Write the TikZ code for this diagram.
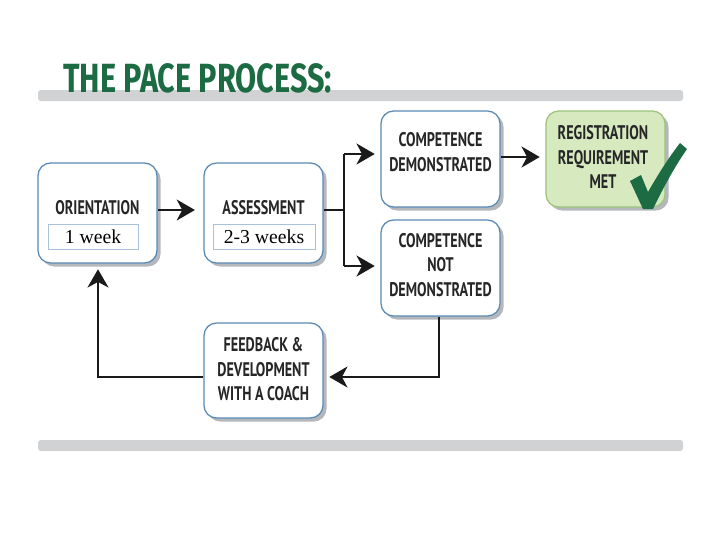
\documentclass[tikz,border=0pt]{standalone}
\usepackage{fontspec}
\usepackage{xcolor}
\usepackage{tikz}
\usetikzlibrary{arrows.meta,positioning,calc,shadows}
\newfontfamily\titlefont[FakeStretch=0.75]{Fira Sans Bold}
\newfontfamily\boxfont[FakeStretch=0.72]{PT Sans Bold}
\newfontfamily\weekfont{Liberation Serif}
\definecolor{pacegreen}{HTML}{1C6B42}
\definecolor{barg}{HTML}{D1D2D4}
\definecolor{boxline}{HTML}{5A8AB4}
\definecolor{boxshade}{HTML}{B4B8BD}
\definecolor{weekline}{HTML}{A9C1DD}
\definecolor{metfill}{HTML}{D7E9BF}
\definecolor{metline}{HTML}{9CC47C}
\definecolor{flow}{HTML}{1A1A1A}

\begin{document}
\begin{tikzpicture}[x=0.025cm,y=-0.025cm,>=Stealth,
  procbox/.style={draw=boxline,line width=0.9pt,fill=white,rounded corners=9pt,
    minimum width=2.975cm,minimum height=2.4cm,
    drop shadow={shadow xshift=2.5pt,shadow yshift=-2.5pt,fill=boxshade,opacity=1}},
  metbox/.style={procbox,draw=metline,fill=metfill},
  boxtext/.style={font=\boxfont\fontsize{14}{17.4}\selectfont,align=center,text=black!85},
  weekbox/.style={draw=weekline,line width=0.6pt,fill=white,minimum height=0.625cm,
    inner sep=0pt,font=\weekfont\fontsize{14}{15}\selectfont},
  flowline/.style={draw=flow,line width=1pt},
  flowarrow/.style={flowline,-{Stealth[length=13pt,width=15pt,inset=4pt]}}]
  \useasboundingbox (0,0) rectangle (720,540);
  \fill[white] (0,0) rectangle (720,540);

  % title and bars
  \fill[barg,rounded corners=2pt] (38,90) rectangle (683,101);
  \fill[barg,rounded corners=2pt] (38,440) rectangle (683,451);
  \node[anchor=base west,text=pacegreen,font=\titlefont\fontsize{29}{30}\selectfont,inner sep=0pt]
    (title) at (63,92) {THE PACE PROCESS:};

  % boxes
  \node[procbox,minimum height=2.5cm] (orient) at (97.5,213) {};
  \node[procbox,minimum height=2.5cm] (assess) at (263.5,213) {};
  \node[procbox] (compyes) at (440.5,159) {};
  \node[procbox] (compno) at (440.5,268) {};
  \node[metbox] (regmet) at (605.5,159) {};
  \node[procbox,minimum height=2.375cm] (feedback) at (263.5,370.5) {};

  % labels
  \node[boxtext] (orientlab) at (97.5,208) {ORIENTATION};
  \node[weekbox,minimum width=2.25cm] (orientwk) at (93,236.5) {1 week};
  \node[boxtext] (assesslab) at (263.5,208) {ASSESSMENT};
  \node[weekbox,minimum width=2.55cm] (assesswk) at (264,236.5) {2-3 weeks};
  \node[boxtext] (compyeslab) at (440.5,152) {COMPETENCE\\DEMONSTRATED};
  \node[boxtext] (compnolab) at (440.5,265) {COMPETENCE\\NOT\\DEMONSTRATED};
  \node[boxtext] (regmetlab) at (603,157) {REGISTRATION\\REQUIREMENT\\MET};
  \node[boxtext] (feedbacklab) at (263.5,369.5) {FEEDBACK \&\\DEVELOPMENT\\WITH A COACH};

  % check mark
  \fill[pacegreen] (630,181) -- (641,175) -- (648,192)
    .. controls (660,171) and (670,156) .. (680,143) -- (687,149)
    .. controls (675,166) and (662,190) .. (653,209) -- (643,209) -- cycle;

  % connectors
  \coordinate (split) at (344,210);
  \coordinate (backturn) at (439,377);
  \coordinate (loopturn) at (98,377);
  \draw[flowarrow,shorten >=6pt] (orient.east |- split) -- (assess.west |- split);
  \draw[flowline] (assess.east |- split) -- (split);
  \draw[flowline] ($(split |- compyes.west)+(0,-5)$) -- ($(split |- compno.west)+(0,-2)$);
  \draw[flowarrow,shorten >=4pt] ($(split |- compyes.west)+(0,-5)$) -- ($(compyes.west)+(0,-5)$);
  \draw[flowarrow,shorten >=4pt] ($(split |- compno.west)+(0,-2)$) -- ($(compno.west)+(0,-2)$);
  \draw[flowarrow,shorten >=4pt] ($(compyes.east)+(0,-2)$) -- ($(regmet.west)+(0,-2)$);
  \draw[flowarrow,shorten >=4pt] (backturn |- compno.south) -- (backturn) -- (backturn -| feedback.east);
  \draw[flowarrow,shorten >=4pt] (feedback.west |- loopturn) -- (loopturn) -- (loopturn |- orient.south);
\end{tikzpicture}
\end{document}
